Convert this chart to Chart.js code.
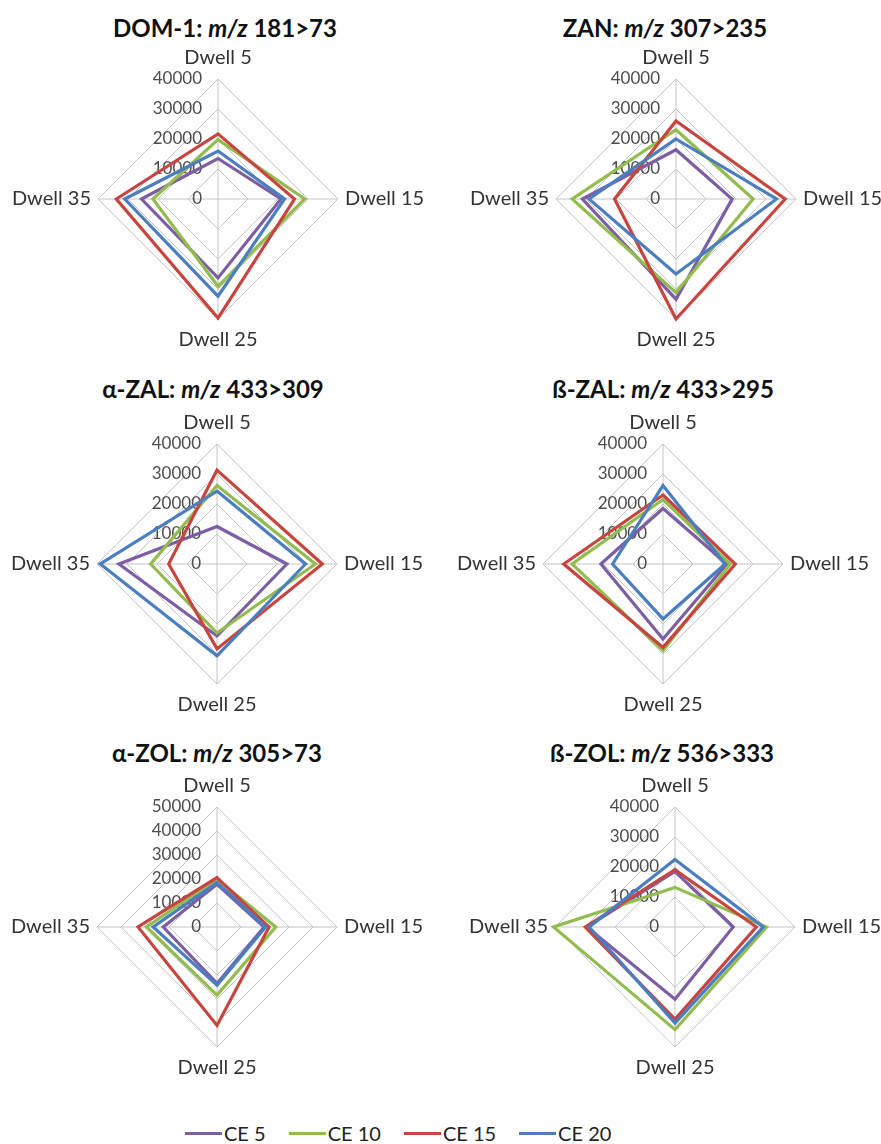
<!DOCTYPE html>
<html>
<head>
<meta charset="utf-8">
<script src="https://cdn.jsdelivr.net/npm/chart.js@4/dist/chart.umd.min.js"></script>
<style>
  html, body { margin: 0; padding: 0; background: #fff; }
  body { width: 881px; height: 1144px; position: relative; overflow: hidden; font-family: Lato, "Open Sans", sans-serif; }
  .title { position: absolute; transform: translate(-50%, -50%); white-space: nowrap;
           font: bold 24px Lato, sans-serif; color: #111; }
  .box { position: absolute; width: 440px; height: 306px; }
  .legend { position: absolute; left: 185px; top: 1121px; display: flex; white-space: nowrap;
            font: 20px Lato, sans-serif; color: #222; }
  .legend span.item { display: inline-flex; align-items: center; margin-right: 23px; }
  .legend span.sw { display: inline-block; width: 37px; height: 3px; margin-right: 2px; }
</style>
</head>
<body>
<div id="root"></div>
<div class="legend" id="legend"></div>
<script>
const dwellLabels = ['Dwell 5', 'Dwell 15', 'Dwell 25', 'Dwell 35'];
const seriesNames = ['CE 5', 'CE 10', 'CE 15', 'CE 20'];
const seriesColors = ['#7D5EA5', '#92BC4E', '#C8453F', '#4A7EC0'];

// values per chart, one row per series (CE 5, CE 10, CE 15, CE 20)
const dom1 = [
  [13500, 21000, 26300, 25500],
  [19800, 28900, 29100, 21700],
  [21700, 25500, 39700, 33900],
  [16000, 22200, 32400, 31100],
];
const zan = [
  [16400, 18700, 33400, 31200],
  [23100, 25700, 31200, 34600],
  [26000, 36400, 40000, 20500],
  [20000, 33500, 25000, 29000],
];
const aZal = [
  [12500, 23300, 24000, 32700],
  [26200, 32800, 23000, 22100],
  [31300, 35100, 28300, 16100],
  [24300, 29500, 30600, 38900],
];
const bZal = [
  [18500, 21300, 25000, 20700],
  [21500, 22400, 28900, 30300],
  [23000, 24100, 27800, 33100],
  [26200, 20700, 18300, 16800],
];
const aZol = [
  [17800, 19600, 23500, 22400],
  [19900, 24500, 28400, 29400],
  [20600, 21700, 41000, 32900],
  [18500, 20300, 24200, 26600],
];
const bZol = [
  [18500, 19400, 24100, 29400],
  [13200, 30500, 34200, 40500],
  [19100, 27100, 30800, 29900],
  [22500, 29400, 32000, 28600],
];

const panels = [
  { name: 'DOM-1', ion: '181>73', data: dom1, max: 40000, cx: 218, cy: 199, tx: 225, ty: 27 },
  { name: 'ZAN', ion: '307>235', data: zan, max: 40000, cx: 676, cy: 199, tx: 665, ty: 27 },
  { name: 'α-ZAL', ion: '433>309', data: aZal, max: 40000, cx: 217, cy: 564, tx: 213, ty: 388 },
  { name: 'ß-ZAL', ion: '433>295', data: bZal, max: 40000, cx: 663, cy: 564, tx: 663, ty: 388 },
  { name: 'α-ZOL', ion: '305>73', data: aZol, max: 50000, cx: 217, cy: 927, tx: 217, ty: 752 },
  { name: 'ß-ZOL', ion: '536>333', data: bZol, max: 40000, cx: 675, cy: 927, tx: 662, ty: 752 },
];

// tick labels sit left of the vertical axis, under the lines
const tickLabels = {
  id: 'tickLabels',
  beforeDatasetsDraw(chart) {
    const scale = chart.scales.r;
    const ctx = chart.ctx;
    ctx.save();
    ctx.font = '17px Lato, sans-serif';
    ctx.fillStyle = '#4d4d4d';
    ctx.textAlign = 'right';
    ctx.textBaseline = 'middle';
    scale.ticks.forEach((t) => {
      const p = scale.getPointPositionForValue(0, t.value);
      ctx.fillText(String(t.value), p.x - 16, p.y);
    });
    ctx.restore();
  },
};

const root = document.getElementById('root');
panels.forEach((p) => {
  const title = document.createElement('div');
  title.className = 'title';
  title.style.left = p.tx + 'px';
  title.style.top = p.ty + 'px';
  title.innerHTML = p.name + ': <i>m/z</i> ' + p.ion.replace('>', '&gt;');
  root.appendChild(title);

  const box = document.createElement('div');
  box.className = 'box';
  box.style.left = (p.cx - 220) + 'px';
  box.style.top = (p.cy - 153) + 'px';
  const canvas = document.createElement('canvas');
  canvas.width = 440;
  canvas.height = 306;
  box.appendChild(canvas);
  root.appendChild(box);

  new Chart(canvas, {
    type: 'radar',
    data: {
      labels: dwellLabels,
      datasets: p.data.map((vals, i) => ({
        label: seriesNames[i],
        data: vals,
        borderColor: seriesColors[i],
        backgroundColor: 'transparent',
        borderWidth: 3.2,
        pointRadius: 0,
        fill: false,
        order: 3 - i,
      })),
    },
    options: {
      responsive: false,
      animation: false,
      plugins: { legend: { display: false }, tooltip: { enabled: false } },
      scales: {
        r: {
          min: 0,
          max: p.max,
          ticks: { display: false, stepSize: 10000 },
          grid: { color: '#c4c4c4', lineWidth: 1 },
          angleLines: { color: '#c4c4c4', lineWidth: 1 },
          pointLabels: {
            color: '#333',
            font: { family: 'Lato, sans-serif', size: 20 },
            padding: (ctx) => (ctx.index % 2 === 0 ? 9 : 7),
          },
        },
      },
    },
    plugins: [tickLabels],
  });
});

const legend = document.getElementById('legend');
seriesNames.forEach((n, i) => {
  const item = document.createElement('span');
  item.className = 'item';
  item.innerHTML = '<span class="sw" style="background:' + seriesColors[i] + '"></span>' + n;
  legend.appendChild(item);
});
</script>
</body>
</html>
